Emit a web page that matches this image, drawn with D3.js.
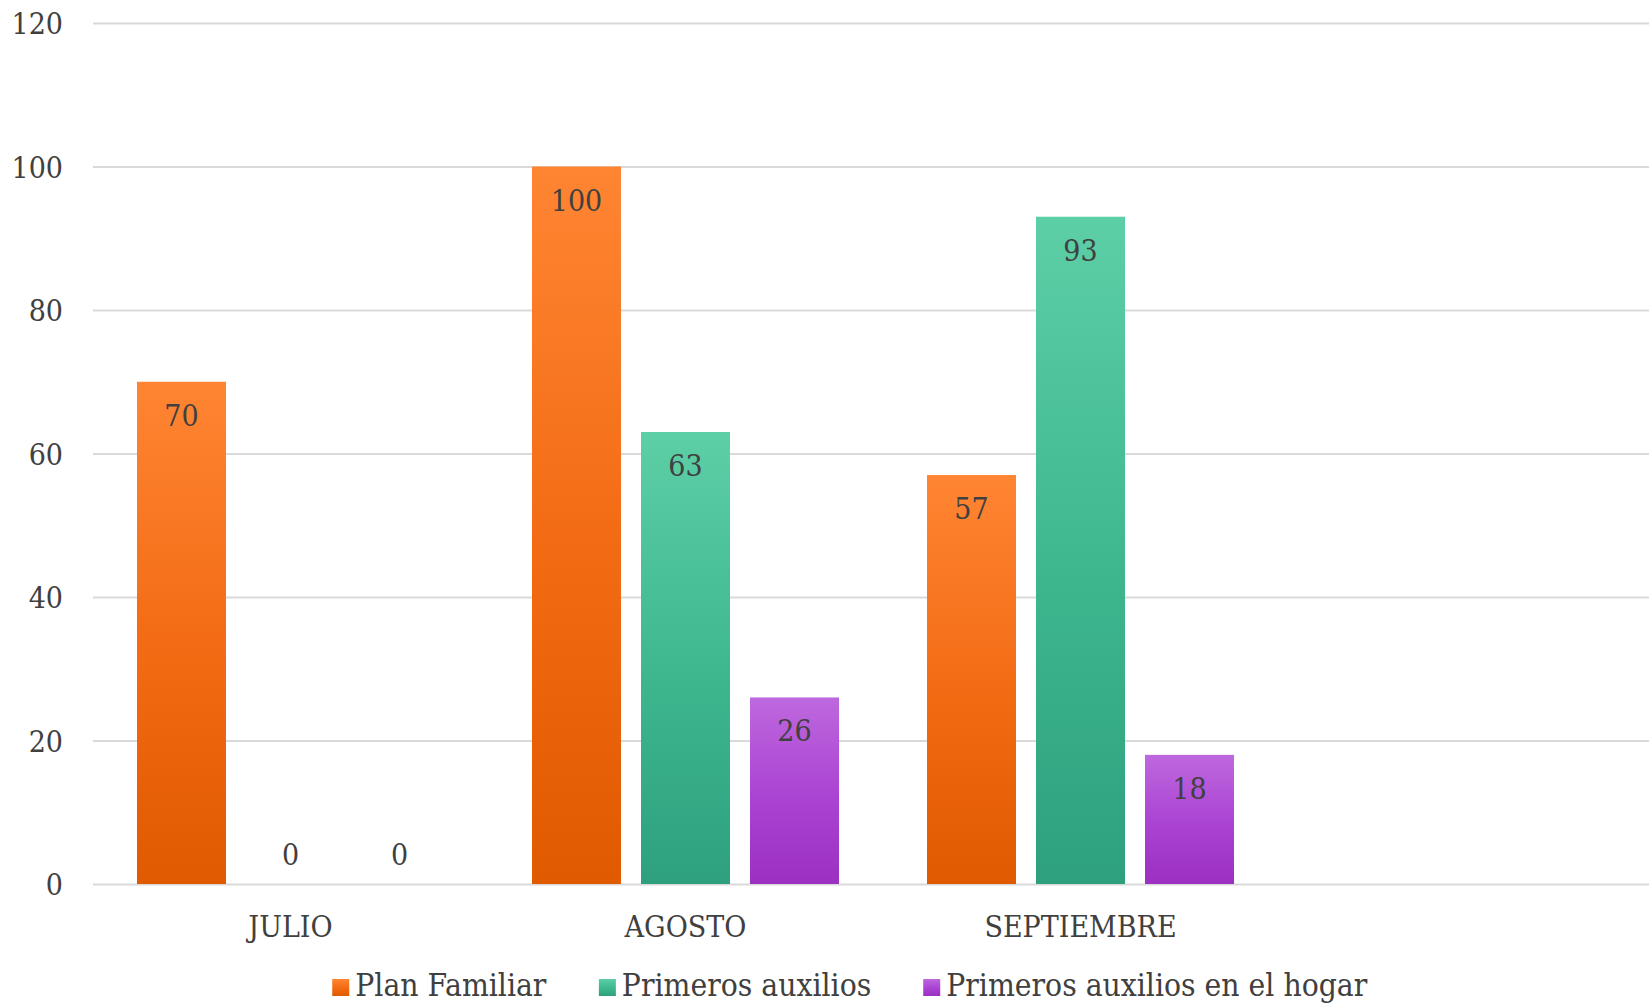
<!DOCTYPE html>
<html>
<head>
<meta charset="utf-8">
<script src="https://cdn.jsdelivr.net/npm/d3@7"></script>
<style>
  html, body { margin: 0; padding: 0; background: #ffffff; }
  svg { display: block; }
  text { font-family: "DejaVu Serif Condensed", "DejaVu Serif", serif; fill: #404040; }
</style>
</head>
<body>
<svg id="chart" width="1649" height="1006"></svg>
<script>
// ---- data ----
const categories = ["JULIO", "AGOSTO", "SEPTIEMBRE", ""];
const seriesNames = ["Plan Familiar", "Primeros auxilios", "Primeros auxilios en el hogar"];
const planFamiliar = [70, 100, 57, null];
const primerosAuxilios = [0, 63, 93, null];
const primerosAuxiliosHogar = [0, 26, 18, null];
const yTicks = [0, 20, 40, 60, 80, 100, 120];

const seriesValues = [planFamiliar, primerosAuxilios, primerosAuxiliosHogar];
const seriesColors = [
  ["#FF8533", "#F26A12", "#E05A00"],
  ["#5DCFA7", "#3DB68E", "#2EA07E"],
  ["#BE68DE", "#AA42D2", "#9B30C2"]
];

const svg = d3.select("#chart");
const W = 1649, H = 1006;
const m = { left: 93, top: 23, bottom: 884 };
const plotRight = 1673;

const y = d3.scaleLinear().domain([0, 120]).range([m.bottom, m.top]);
const x0 = d3.scaleBand().domain(categories).range([m.left, plotRight]).padding(0);
const groupW = x0.bandwidth() * (307 / 395);
const groupOff = (x0.bandwidth() - groupW) / 2;
const x1 = d3.scaleBand().domain(seriesNames).range([0, groupW]).paddingInner(20 / 109).paddingOuter(0);

// gradients
const defs = svg.append("defs");
seriesColors.forEach((c, i) => {
  const g = defs.append("linearGradient").attr("id", "grad" + i)
    .attr("x1", 0).attr("y1", 0).attr("x2", 0).attr("y2", 1);
  g.append("stop").attr("offset", "0%").attr("stop-color", c[0]);
  g.append("stop").attr("offset", "55%").attr("stop-color", c[1]);
  g.append("stop").attr("offset", "100%").attr("stop-color", c[2]);
});

// gridlines
const yAxis = d3.axisLeft(y).tickValues(yTicks).tickSize(-(W - m.left)).tickPadding(30);
const gy = svg.append("g").attr("transform", `translate(${m.left},0)`).call(yAxis);
gy.select(".domain").remove();
gy.selectAll(".tick line").attr("stroke", "#d9d9d9").attr("stroke-width", 2);
gy.selectAll(".tick text")
  .style("font-size", "30px").attr("fill", "#404040")
  .attr("dy", "0.36em");

// bars
const groups = svg.append("g").selectAll("g")
  .data(categories.map((c, ci) => ({ c, ci })).filter(d => d.c !== ""))
  .join("g")
  .attr("transform", d => `translate(${x0(d.c) + groupOff},0)`);

groups.selectAll("rect")
  .data(d => seriesNames.map((s, si) => ({ s, si, v: seriesValues[si][d.ci] })))
  .join("rect")
  .attr("x", d => x1(d.s))
  .attr("width", x1.bandwidth())
  .attr("y", d => y(d.v))
  .attr("height", d => y(0) - y(d.v))
  .attr("fill", d => `url(#grad${d.si})`);

groups.selectAll("text.lbl")
  .data(d => seriesNames.map((s, si) => ({ s, si, v: seriesValues[si][d.ci] })))
  .join("text")
  .attr("class", "lbl")
  .attr("x", d => x1(d.s) + x1.bandwidth() / 2)
  .attr("y", d => d.v > 0 ? y(d.v) + 44 : y(0) - 19)
  .attr("text-anchor", "middle")
  .style("font-size", "30px")
  .text(d => d.v);

// x axis labels
const xAxis = d3.axisBottom(x0).tickSize(0).tickPadding(0);
const gx = svg.append("g").attr("transform", `translate(0,${m.bottom})`).call(xAxis);
gx.select(".domain").remove();
gx.selectAll(".tick text")
  .style("font-size", "30px").attr("fill", "#404040")
  .attr("dy", 0).attr("y", 53);

// legend
const legend = svg.append("g");
const items = legend.selectAll("g").data(seriesNames).join("g");
items.append("rect").attr("width", 17).attr("height", 17).attr("y", -17)
  .attr("fill", (d, i) => `url(#grad${i})`);
items.append("text").attr("x", 23).attr("y", 0).style("font-size", "31.5px").text(d => d);
let lx = 0;
items.each(function () {
  const w = this.getBBox().width;
  d3.select(this).attr("transform", `translate(${lx},0)`);
  lx += w + 52;
});
const totalW = lx - 52;
legend.attr("transform", `translate(${850 - totalW / 2},996)`);
</script>
</body>
</html>
